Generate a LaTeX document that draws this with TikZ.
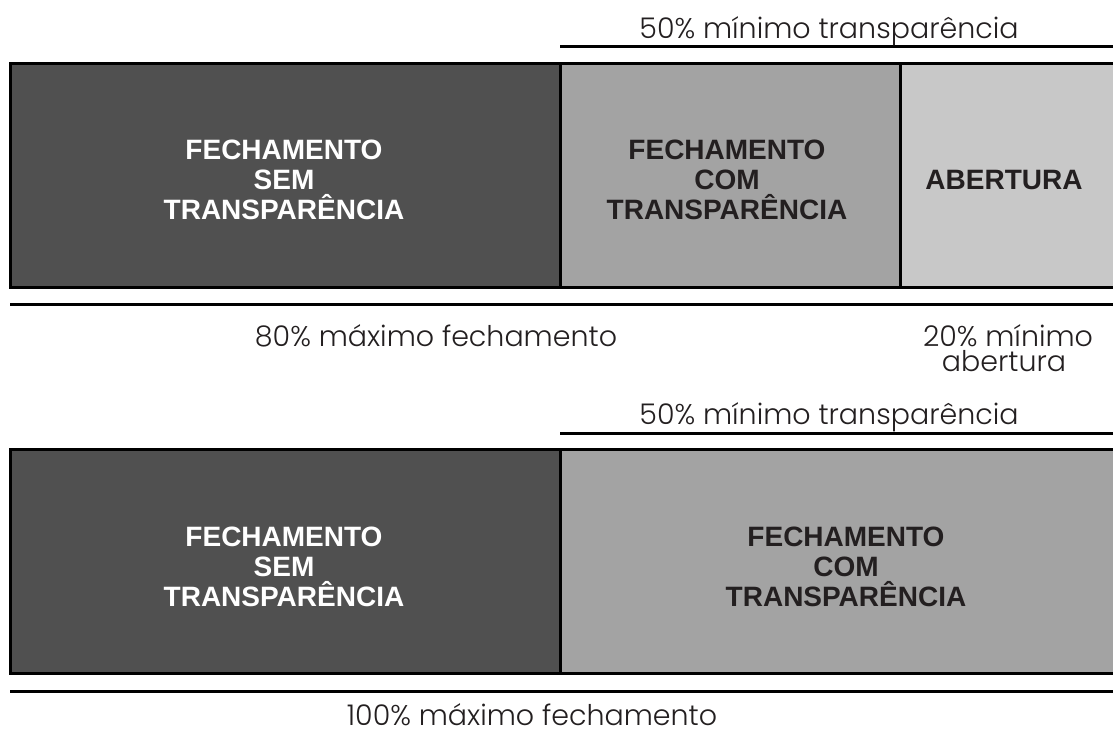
\documentclass[tikz,border=0pt]{standalone}
\usepackage{fontspec}
\setmainfont{Liberation Sans}
\IfFontExistsTF{Poppins Light}{\newfontfamily\lightfont{Poppins Light}}{\newfontfamily\lightfont{Poppins}}
\definecolor{cdark}{HTML}{505050}
\definecolor{cmid}{HTML}{A3A3A3}
\definecolor{clight}{HTML}{C8C8C8}
\definecolor{ink}{HTML}{231F20}
\begin{document}
\begin{tikzpicture}[x=1pt,y=-1pt,
  cell/.style={rectangle, draw=black, line width=3pt, outer sep=0pt, inner sep=0pt, anchor=north west},
  rule/.style={line width=2.7pt, draw=black},
  lab/.style={font=\lightfont\fontsize{28.5}{25}\selectfont, text=ink, inner sep=0pt, anchor=base},
  blk/.style={font=\bfseries\fontsize{28}{30}\selectfont, text=ink, align=center, inner sep=0pt},
  wblk/.style={blk, text=white}]
\useasboundingbox (0,0) rectangle (1113,731);
% top group
\node[cell, fill=cdark, minimum width=550.5pt, minimum height=223.5pt] (a1) at (10,63.5) {};
\node[cell, fill=cmid, minimum width=339.8pt, minimum height=223.5pt] (a2) at (560.5,63.5) {};
\node[cell, fill=clight, minimum width=230pt, minimum height=223.5pt] (a3) at (900.3,63.5) {};
\node[wblk] (t1) at (284,180) {FECHAMENTO\\SEM\\TRANSPARÊNCIA};
\node[blk] (t2) at (727,180) {FECHAMENTO\\COM\\TRANSPARÊNCIA};
\node[blk] (t3) at (1004,180) {ABERTURA};
\coordinate (r1a) at (560,46.7); \coordinate (r1b) at (1120,46.7);
\draw[rule] (r1a) -- (r1b);
\node[lab] (l1) at (829,38.3) {50\% mínimo transparência};
\coordinate (r2a) at (10,304.7); \coordinate (r2b) at (1120,304.7);
\draw[rule] (r2a) -- (r2b);
\node[lab] (l2) at (436,346) {80\% máximo fechamento};
\node[lab] (l3a) at (1008,346) {20\% mínimo};
\node[lab] (l3b) at (1004,371.5) {abertura};
% bottom group
\node[cell, fill=cdark, minimum width=550.5pt, minimum height=224.6pt] (b1) at (10,449.2) {};
\node[cell, fill=cmid, minimum width=560pt, minimum height=224.6pt] (b2) at (560.5,449.2) {};
\node[wblk] (t4) at (284,566.5) {FECHAMENTO\\SEM\\TRANSPARÊNCIA};
\node[blk] (t5) at (846,566.5) {FECHAMENTO\\COM\\TRANSPARÊNCIA};
\coordinate (r3a) at (560,433.7); \coordinate (r3b) at (1120,433.7);
\draw[rule] (r3a) -- (r3b);
\node[lab] (l4) at (829,424) {50\% mínimo transparência};
\coordinate (r4a) at (10,691.3); \coordinate (r4b) at (1120,691.3);
\draw[rule] (r4a) -- (r4b);
\node[lab] (l5) at (532,725) {100\% máximo fechamento};
\end{tikzpicture}
\end{document}
